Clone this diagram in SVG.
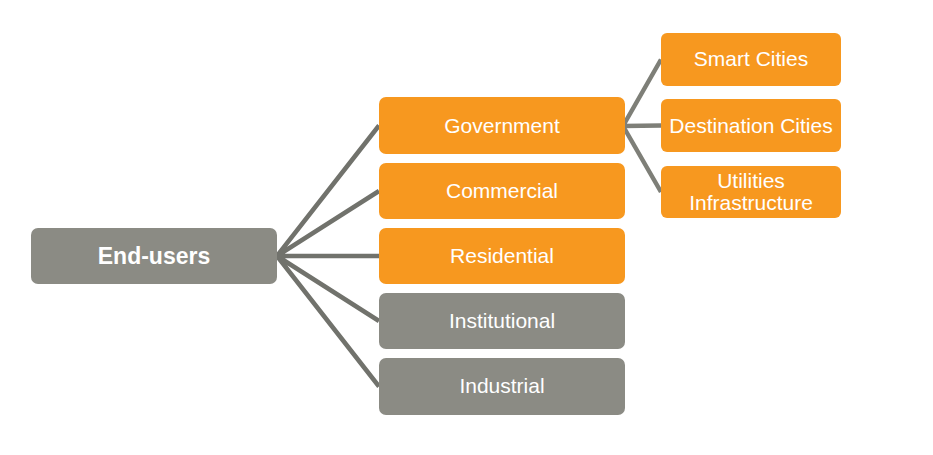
<svg xmlns="http://www.w3.org/2000/svg" width="933" height="455" viewBox="0 0 933 455">
<style>
.o{fill:#F7981F}
.g{fill:#8B8B84}
.t{fill:#fff;font-family:"Liberation Sans",Arial,sans-serif;font-size:21px;text-anchor:middle}
.b{font-weight:bold;font-size:23px}
.c{stroke:#71726C;stroke-width:4.5;fill:none;stroke-linecap:butt}
.c2{stroke:#7E7F78;stroke-width:4.5;fill:none}
</style>
<rect width="933" height="455" fill="#fff"/>
<g id="connectors">
<path class="c" d="M277 256 L379 125.5 M277 256 L379 191 M277 256 L379 256 M277 256 L379 321 M277 256 L379 386.5"/>
<path class="c2" d="M623 126 L661 59.5 M623 126 L661 125.5 M623 126 L661 192"/>
</g>
<g id="end-users"><rect class="g" x="31" y="228" width="246" height="56" rx="7"/><text class="t b" x="154" y="264">End-users</text></g>
<g id="government"><rect class="o" x="379" y="97" width="246" height="57" rx="7"/><text class="t" x="502" y="133">Government</text></g>
<g id="commercial"><rect class="o" x="379" y="163" width="246" height="56" rx="7"/><text class="t" x="502" y="198">Commercial</text></g>
<g id="residential"><rect class="o" x="379" y="228" width="246" height="56" rx="7"/><text class="t" x="502" y="263">Residential</text></g>
<g id="institutional"><rect class="g" x="379" y="293" width="246" height="56" rx="7"/><text class="t" x="502" y="328">Institutional</text></g>
<g id="industrial"><rect class="g" x="379" y="358" width="246" height="57" rx="7"/><text class="t" x="502" y="393">Industrial</text></g>
<g id="smart-cities"><rect class="o" x="661" y="33" width="180" height="53" rx="6"/><text class="t" x="751" y="66">Smart Cities</text></g>
<g id="destination-cities"><rect class="o" x="661" y="99" width="180" height="53" rx="6"/><text class="t" x="751" y="133">Destination Cities</text></g>
<g id="utilities-infrastructure"><rect class="o" x="661" y="166" width="180" height="52" rx="6"/><text class="t" x="751" y="188">Utilities</text><text class="t" x="751" y="210">Infrastructure</text></g>
</svg>
